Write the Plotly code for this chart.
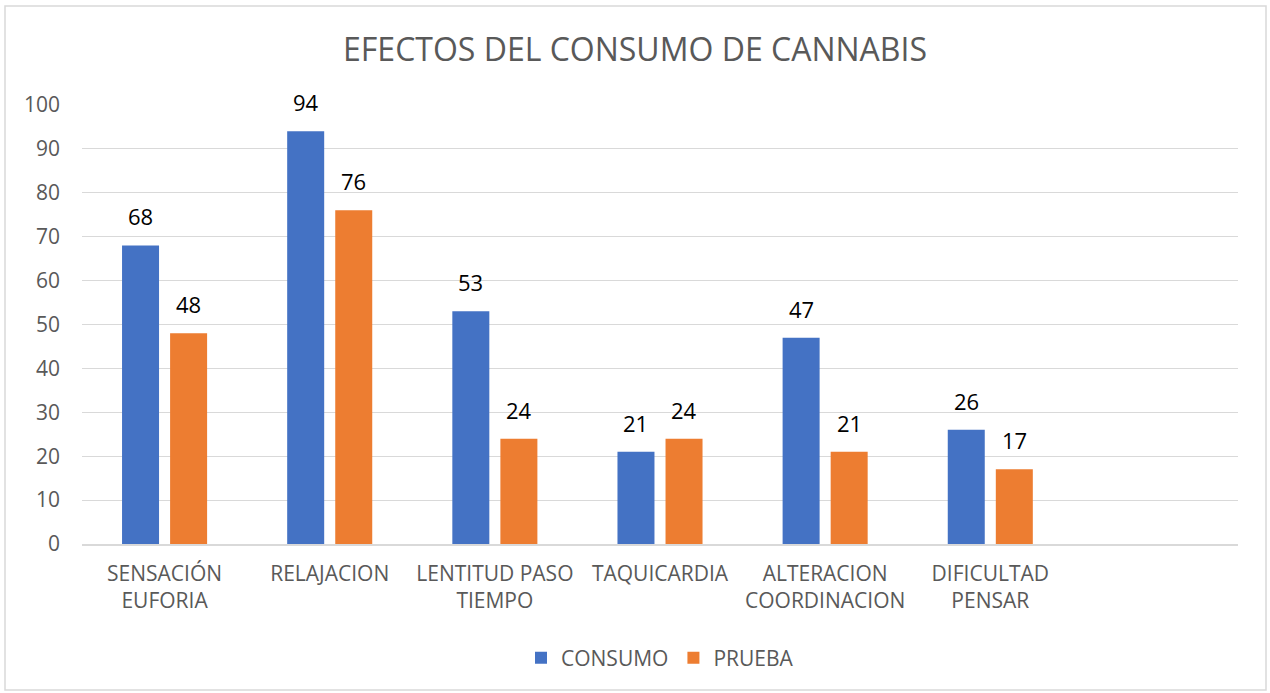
import plotly.graph_objects as go

# Effects reported, two groups per effect
categorias = ["SENSACIÓN<br>EUFORIA", "RELAJACION", "LENTITUD PASO<br>TIEMPO",
              "TAQUICARDIA", "ALTERACION<br>COORDINACION", "DIFICULTAD<br>PENSAR"]
consumo = [68, 94, 53, 21, 47, 26]
prueba = [48, 76, 24, 24, 21, 17]
y_ticks = [0, 10, 20, 30, 40, 50, 60, 70, 80, 90, 100]

AZUL = "#4472C4"
NARANJA = "#ED7D31"
GRIS_TEXTO = "#595959"
GRIS_LINEA = "#D9D9D9"
FUENTE = "Open Sans"

W, H = 1270, 693
ML, MR, MT, MB = 82, 32, 105, 149
plot_w = W - ML - MR
plot_h = H - MT - MB

idx = list(range(len(categorias)))

fig = go.Figure()
fig.add_trace(go.Bar(x=idx, y=consumo, name="CONSUMO", marker_color=AZUL,
                     marker_line_width=0))
fig.add_trace(go.Bar(x=idx, y=prueba, name="PRUEBA", marker_color=NARANJA,
                     marker_line_width=0))

# value labels above each bar
bargap, bargroupgap = 0.418, 0.23
cat_px = plot_w / 7
shift = cat_px * (1 - bargap) / 4
annotations = []
for serie, dx in ((consumo, -shift), (prueba, shift)):
    for i, v in zip(idx, serie):
        annotations.append(dict(x=i, y=v, xref="x", yref="y", text=str(v),
                                showarrow=False, xshift=dx, yshift=12,
                                yanchor="bottom",
                                font=dict(family=FUENTE, size=22, color="#000000")))

legend_y = -(MB - (H - 658)) / plot_h

fig.update_layout(
    width=W, height=H,
    margin=dict(l=ML, r=MR, t=MT, b=MB),
    paper_bgcolor="white", plot_bgcolor="white",
    barmode="group", bargap=bargap, bargroupgap=bargroupgap,
    title=dict(text="EFECTOS DEL CONSUMO DE CANNABIS", x=0.5, xanchor="center",
               y=1 - 50 / H, yanchor="middle",
               font=dict(family=FUENTE, size=32, color=GRIS_TEXTO)),
    font=dict(family=FUENTE, color=GRIS_TEXTO),
    xaxis=dict(range=[-0.5, 6.5], tickmode="array", tickvals=idx, ticktext=categorias,
               showgrid=False, zeroline=False, showline=True, linecolor=GRIS_LINEA,
               linewidth=1.5, ticks="", tickfont=dict(family=FUENTE, size=21, color=GRIS_TEXTO),
               ticklabelstandoff=10),
    yaxis=dict(range=[0, 100], tickmode="array", tickvals=y_ticks,
               showgrid=True, gridcolor=GRIS_LINEA, gridwidth=1,
               zeroline=False, showline=False, ticks="",
               tickfont=dict(family=FUENTE, size=21, color=GRIS_TEXTO),
               ticklabelstandoff=21),
    legend=dict(orientation="h", x=0.5, xanchor="center", y=legend_y,
                yanchor="middle", font=dict(family=FUENTE, size=21, color=GRIS_TEXTO),
                traceorder="normal"),
    annotations=annotations,
    shapes=[dict(type="rect", xref="paper", yref="paper",
                 x0=(5 - ML) / plot_w, x1=(1266 - ML) / plot_w,
                 y0=(H - MB - 690) / plot_h, y1=(H - MB - 6) / plot_h,
                 line=dict(color=GRIS_LINEA, width=1.5), layer="below")],
)

fig.write_html("out.html")
